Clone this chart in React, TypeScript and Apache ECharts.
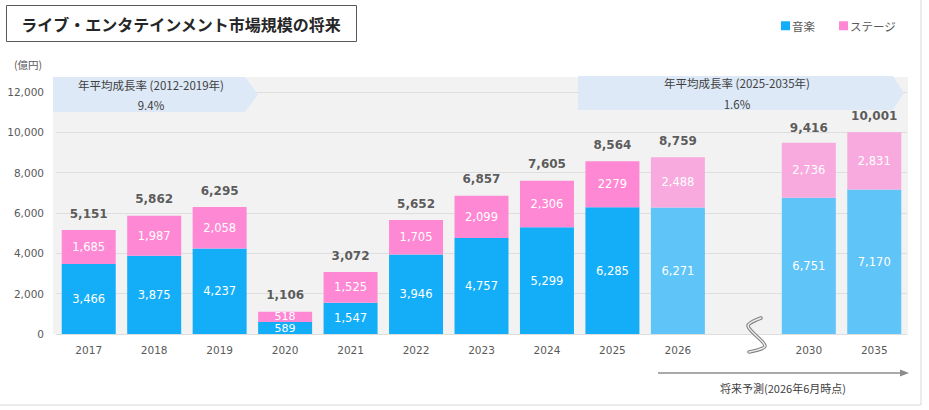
import React, { useEffect, useRef } from "react";
import * as echarts from "echarts";

const categories = ["2017", "2018", "2019", "2020", "2021", "2022", "2023", "2024", "2025", "2026", "", "2030", "2035"];
const music = [3466, 3875, 4237, 589, 1547, 3946, 4757, 5299, 6285, 6271, null, 6751, 7170];
const stage = [1685, 1987, 2058, 518, 1525, 1705, 2099, 2306, 2279, 2488, null, 2736, 2831];
const totals = [5151, 5862, 6295, 1106, 3072, 5652, 6857, 7605, 8564, 8759, null, 9416, 10001];
const forecastIndices = [9, 11, 12];
const noCommaStage = [8];
const thinBarIndices = [3];
const yMin = 0;
const yMax = 12000;
const yInterval = 2000;

const MUSIC = "#14AEF8";
const MUSIC_LIGHT = "#5FC4F7";
const STAGE = "#FF88D4";
const STAGE_LIGHT = "#F8A9DE";

const NUM_FONT = '"DejaVu Sans", "Noto Sans CJK JP", sans-serif';
const JP_FONT = '"Noto Sans CJK JP", "DejaVu Sans", sans-serif';

const fmt = (v: number) => v.toLocaleString("en-US");

export default function App() {
  const ref = useRef<HTMLDivElement>(null);
  useEffect(() => {
    if (!ref.current) return;
    const chart = echarts.init(ref.current, undefined, { renderer: "svg" });
    const thinLabel = { lineHeight: 10, fontSize: 11 };
    const musicData = music.map((v, i) => ({
      value: v == null ? "-" : v,
      itemStyle: forecastIndices.includes(i) ? { color: MUSIC_LIGHT } : undefined,
      label: thinBarIndices.includes(i) ? thinLabel : undefined,
    }));
    const stageData = stage.map((v, i) => ({
      value: v == null ? "-" : v,
      itemStyle: forecastIndices.includes(i) ? { color: STAGE_LIGHT } : undefined,
      label: thinBarIndices.includes(i) ? thinLabel : undefined,
    }));
    const option: any = {
      animation: false,
      backgroundColor: "#ffffff",
      grid: { left: 56, right: 22, top: 92, bottom: 76 },
      legend: {
        data: ["音楽", "ステージ"],
        left: 776,
        top: 15,
        icon: "rect",
        itemWidth: 9,
        itemHeight: 9,
        itemGap: 24,
        selectedMode: false,
        textStyle: { fontFamily: JP_FONT, fontSize: 11.5, color: "#595959", padding: [0, 0, 0, -3] },
      },
      xAxis: {
        type: "category",
        data: categories,
        axisLine: { show: false },
        axisTick: { show: false },
        axisLabel: { color: "#595959", fontSize: 10.5, fontFamily: NUM_FONT, margin: 11 },
      },
      yAxis: {
        type: "value",
        min: yMin,
        max: yMax,
        interval: yInterval,
        axisLine: { show: false },
        axisTick: { show: false },
        axisLabel: {
          color: "#595959",
          fontSize: 10.5,
          fontFamily: NUM_FONT,
          margin: 12,
          formatter: (v: number) => fmt(v),
        },
        splitLine: { lineStyle: { color: "#dedede", width: 1 } },
      },
      series: [
        {
          name: "音楽",
          type: "bar",
          stack: "total",
          barWidth: 54,
          itemStyle: { color: MUSIC },
          data: musicData,
          label: {
            show: true,
            position: "inside",
            color: "#ffffff",
            fontSize: 11.5,
            fontFamily: NUM_FONT,
            formatter: (p: any) => (typeof p.value === "number" ? fmt(p.value) : ""),
          },
        },
        {
          name: "ステージ",
          type: "bar",
          stack: "total",
          barWidth: 54,
          itemStyle: { color: STAGE },
          data: stageData,
          label: {
            show: true,
            position: "inside",
            color: "#ffffff",
            fontSize: 11.5,
            fontFamily: NUM_FONT,
            formatter: (p: any) =>
              typeof p.value === "number"
                ? noCommaStage.includes(p.dataIndex)
                  ? String(p.value)
                  : fmt(p.value)
                : "",
          },
        },
        {
          name: "合計",
          type: "scatter",
          symbolSize: 1,
          itemStyle: { color: "rgba(0,0,0,0)" },
          data: totals.map((v) => (v == null ? "-" : v)),
          z: 5,
          label: {
            show: true,
            position: "top",
            distance: 10,
            color: "#333333",
            fontSize: 12,
            fontWeight: "bold",
            fontFamily: NUM_FONT,
            formatter: (p: any) => (typeof p.value === "number" ? fmt(p.value) : ""),
          },
        },
      ],
      graphic: [
        { type: "rect", z: -10, silent: true, shape: { x: 53, y: 77, width: 855, height: 257 }, style: { fill: "#f2f2f2" } },
        { type: "line", z: -10, shape: { x1: 921, y1: 0, x2: 921, y2: 405 }, style: { stroke: "#d9d9d9", lineWidth: 1 } },
        { type: "line", z: -10, shape: { x1: 0, y1: 405, x2: 921, y2: 405 }, style: { stroke: "#d9d9d9", lineWidth: 1 } },
        { type: "rect", shape: { x: 6.5, y: 5.5, width: 350, height: 36 }, style: { fill: "#ffffff", stroke: "#595959", lineWidth: 1 } },
        {
          type: "text",
          x: 181,
          y: 24,
          style: {
            text: "ライブ・エンタテインメント市場規模の将来",
            fill: "#262626",
            font: `bold 16px ${JP_FONT}`,
            align: "center",
            verticalAlign: "middle",
          },
        },
        {
          type: "text",
          x: 14,
          y: 64,
          style: { text: "(億円)", fill: "#595959", font: `10.5px ${JP_FONT}`, verticalAlign: "middle" },
        },
        {
          type: "polygon",
          z: 1,
          shape: { points: [[53, 77], [245, 77], [258, 94.5], [245, 112], [53, 112]] },
          style: { fill: "#dde9f6" },
        },
        {
          type: "text",
          z: 2,
          x: 151,
          y: 85,
          style: { text: "年平均成長率 (2012-2019年)", fill: "#404040", font: `11.5px ${JP_FONT}`, align: "center", verticalAlign: "middle" },
        },
        {
          type: "text",
          z: 2,
          x: 151,
          y: 105,
          style: { text: "9.4%", fill: "#404040", font: `11.5px ${JP_FONT}`, align: "center", verticalAlign: "middle" },
        },
        {
          type: "polygon",
          z: 1,
          shape: { points: [[578, 76], [893, 76], [904, 93], [893, 110], [578, 110]] },
          style: { fill: "#dde9f6" },
        },
        {
          type: "text",
          z: 2,
          x: 737,
          y: 83,
          style: { text: "年平均成長率 (2025-2035年)", fill: "#404040", font: `11.5px ${JP_FONT}`, align: "center", verticalAlign: "middle" },
        },
        {
          type: "text",
          z: 2,
          x: 737,
          y: 104,
          style: { text: "1.6%", fill: "#404040", font: `11.5px ${JP_FONT}`, align: "center", verticalAlign: "middle" },
        },
        {
          type: "polyline",
          z: 3,
          shape: { points: [[761, 318], [748, 326], [765, 346], [749, 352]], smooth: 0.3 },
          style: { stroke: "#7f7f7f", lineWidth: 3.5, fill: "none", lineCap: "round" },
        },
        {
          type: "polyline",
          z: 4,
          shape: { points: [[761, 318], [748, 326], [765, 346], [749, 352]], smooth: 0.3 },
          style: { stroke: "#eeeeee", lineWidth: 1.5, fill: "none", lineCap: "round" },
        },
        { type: "line", shape: { x1: 658, y1: 373, x2: 902, y2: 373 }, style: { stroke: "#8c8c8c", lineWidth: 1.5 } },
        { type: "polygon", shape: { points: [[909, 373], [900, 369.5], [900, 376.5]] }, style: { fill: "#8c8c8c" } },
        {
          type: "text",
          x: 783,
          y: 388,
          style: { text: "将来予測(2026年6月時点)", fill: "#404040", font: `11px ${JP_FONT}`, align: "center", verticalAlign: "middle" },
        },
      ],
    };
    chart.setOption(option);
    return () => chart.dispose();
  }, []);
  return <div ref={ref} style={{ width: 929, height: 410, position: "absolute", left: 0, top: 0 }} />;
}
